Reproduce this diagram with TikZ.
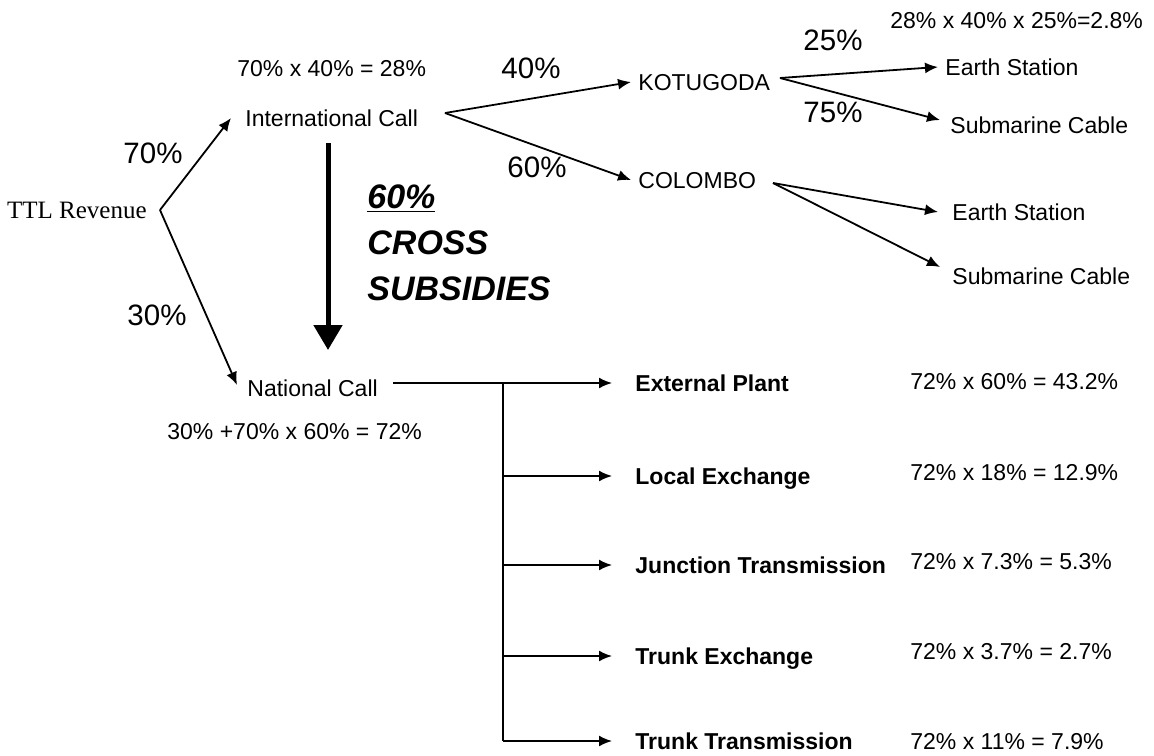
\documentclass[tikz,border=0pt]{standalone}
\usepackage{fontspec}
\setmainfont{Liberation Sans}
\newfontfamily\serifrm{Liberation Serif}
\usetikzlibrary{arrows.meta}

\tikzset{
  txt/.style={inner sep=0pt, font=\fontsize{11.5}{13}\selectfont, text height=8.2pt, text depth=0pt},
  leaf/.style={txt, anchor=west, inner xsep=3.5pt},
  sum/.style={txt, anchor=west},
  pct/.style={inner sep=0pt, font=\fontsize{14.75}{16}\selectfont},
  plant/.style={txt, anchor=west, inner xsep=11.5pt, font=\fontsize{11.5}{13}\selectfont\bfseries},
  arr/.style={-{Latex[length=6.5pt,width=5.5pt]}, line width=0.9pt},
  subsidy/.style={-{Triangle[length=12.5pt,width=14pt]}, line width=2.5pt},
  bus/.style={line width=1.4pt},
}

\begin{document}
\begin{tikzpicture}[x=0.5pt, y=-0.5pt]
    \useasboundingbox (0,0) rectangle (1154,755);

    % revenue split
    \node[txt, anchor=east, inner xsep=6.5pt, font=\serifrm\fontsize{12.5}{14}\selectfont] (ttl) at (160,210) {TTL Revenue};
    \node[leaf, inner xsep=7pt] (intl) at (231,118) {International Call};
    \node[leaf, inner xsep=5pt] (natl) at (237,388) {National Call};
    \node[sum] (intl-sum) at (237,68) {70\% x 40\% = 28\%};
    \node[sum] (natl-sum) at (167,431) {30\% +70\% x 60\% = 72\%};
    \node[pct] (p70) at (153,153) {70\%};
    \node[pct] (p30) at (157,315) {30\%};

    \path [arr] (ttl.east) edge (intl.west);
    \path [arr] (ttl.east) edge ([yshift=1.5pt]natl.west);

    % international traffic
    \node[leaf] (kot) at (631,82) {KOTUGODA};
    \node[leaf] (col) at (631,180) {COLOMBO};
    \node[pct] (p40) at (531,68) {40\%};
    \node[pct] (p60) at (537,167) {60\%};
    \coordinate (intl-fork) at (445,113);

    \path [arr] (intl-fork) edge (kot.west);
    \path [arr] (intl-fork) edge (col.west);

    \node[sum] (kot-sum) at (890,20) {28\% x 40\% x 25\%=2.8\%};
    \node[pct] (p25) at (833,40) {25\%};
    \node[pct] (p75) at (833,112) {75\%};
    \node[leaf] (kot-es) at (938,67) {Earth Station};
    \node[leaf, inner xsep=5pt] (kot-sc) at (940,125) {Submarine Cable};
    \node[leaf, inner xsep=7pt] (col-es) at (938,212) {Earth Station};
    \node[leaf, inner xsep=6pt] (col-sc) at (940,276) {Submarine Cable};
    \coordinate (kot-fork) at (780,78);
    \coordinate (col-fork) at (773,183);

    \path [arr] (kot-fork) edge (kot-es.west);
    \path [arr] (kot-fork) edge ([yshift=2.5pt]kot-sc.west);
    \path [arr] (col-fork) edge (col-es.west);
    \path [arr] (col-fork) edge ([yshift=4.5pt]col-sc.west);

    % cross subsidy
    \node[anchor=west, align=left, inner sep=0pt, font=\fontsize{17}{23}\selectfont\bfseries\itshape] (xsub) at (367,243) {\underline{60\%}\\CROSS\\SUBSIDIES};
    \coordinate (xs-top) at (328,143);
    \coordinate (xs-bot) at (328,350);
    \draw [subsidy] (xs-top) -- (xs-bot);

    % national traffic
    \node[plant] (ext) at (612,383) {External Plant};
    \node[plant] (loc) at (612,476) {Local Exchange};
    \node[plant] (jun) at (612,565) {Junction Transmission};
    \node[plant] (trx) at (612,656) {Trunk Exchange};
    \node[plant] (trt) at (612,741) {Trunk Transmission};
    \node[sum] (ext-sum) at (910,381) {72\% x 60\% = 43.2\%};
    \node[sum] (loc-sum) at (910,472) {72\% x 18\% = 12.9\%};
    \node[sum] (jun-sum) at (910,561) {72\% x 7.3\% = 5.3\%};
    \node[sum] (trx-sum) at (910,651) {72\% x 3.7\% = 2.7\%};
    \node[sum] (trt-sum) at (910,741) {72\% x 11\% = 7.9\%};
    \coordinate (natl-fork) at (393,383);
    \coordinate (bus-top) at (503,383);
    \coordinate (bus-bot) at (503,741);

    \draw [arr] (natl-fork) -- (ext.west);
    \draw [bus] (bus-top) -- (bus-bot);
    \draw [arr] (bus-top |- loc.west) -- (loc.west);
    \draw [arr] (bus-top |- jun.west) -- (jun.west);
    \draw [arr] (bus-top |- trx.west) -- (trx.west);
    \draw [arr] (bus-bot) -- (trt.west);
\end{tikzpicture}
\end{document}
